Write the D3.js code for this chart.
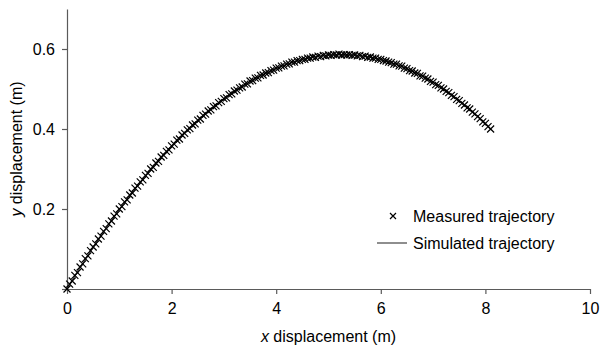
<!DOCTYPE html>
<html>
<head>
<meta charset="utf-8">
<script src="https://cdn.jsdelivr.net/npm/d3@7"></script>
<style>
  html, body { margin: 0; padding: 0; background: #fff; }
  svg { display: block; font-family: "Liberation Sans", Arial, sans-serif; }
</style>
</head>
<body>
<svg id="chart" width="600" height="351"></svg>
<script>
// ---- data ----
const xTicks = [0, 2, 4, 6, 8, 10];
const yTicks = [0, 0.2, 0.4, 0.6];
const yTickLabels = ["", "0.2", "0.4", "0.6"];
const seriesNames = ["Measured trajectory", "Simulated trajectory"];

const measuredX = [0.00,0.05,0.10,0.15,0.20,0.25,0.30,0.35,0.40,0.45,0.50,0.55,0.60,0.65,0.70,0.75,0.80,0.85,0.90,0.95,
1.00,1.05,1.10,1.15,1.20,1.25,1.30,1.35,1.40,1.45,1.50,1.55,1.60,1.65,1.70,1.75,1.80,1.85,1.90,1.95,
2.00,2.05,2.10,2.15,2.20,2.25,2.30,2.35,2.40,2.45,2.50,2.55,2.60,2.65,2.70,2.75,2.80,2.85,2.90,2.95,
3.00,3.05,3.10,3.15,3.20,3.25,3.30,3.35,3.40,3.45,3.50,3.55,3.60,3.65,3.70,3.75,3.80,3.85,3.90,3.95,
4.00,4.05,4.10,4.15,4.20,4.25,4.30,4.35,4.40,4.45,4.50,4.55,4.60,4.65,4.70,4.75,4.80,4.85,4.90,4.95,
5.00,5.05,5.10,5.15,5.20,5.25,5.30,5.35,5.40,5.45,5.50,5.55,5.60,5.65,5.70,5.75,5.80,5.85,5.90,5.95,
6.00,6.05,6.10,6.15,6.20,6.25,6.30,6.35,6.40,6.45,6.50,6.55,6.60,6.65,6.70,6.75,6.80,6.85,6.90,6.95,
7.00,7.05,7.10,7.15,7.20,7.25,7.30,7.35,7.40,7.45,7.50,7.55,7.60,7.65,7.70,7.75,7.80,7.85,7.90,7.95,
8.00,8.05,8.10];
const measuredY = [0.000,0.012,0.020,0.034,0.041,0.055,0.063,0.076,0.083,0.096,0.105,0.113,0.125,0.132,0.144,0.151,0.163,0.170,0.182,0.188,
0.200,0.206,0.218,0.223,0.235,0.240,0.252,0.257,0.268,0.273,0.284,0.289,0.300,0.304,0.315,0.319,0.330,0.334,0.344,0.348,
0.358,0.362,0.372,0.375,0.385,0.389,0.398,0.401,0.410,0.413,0.422,0.425,0.434,0.437,0.445,0.448,0.456,0.458,0.466,0.469,
0.476,0.478,0.486,0.488,0.495,0.497,0.503,0.505,0.512,0.513,0.520,0.521,0.527,0.528,0.534,0.535,0.540,0.541,0.546,0.547,
0.552,0.553,0.557,0.558,0.562,0.563,0.567,0.567,0.571,0.571,0.574,0.574,0.577,0.577,0.580,0.579,0.582,0.581,0.584,0.583,
0.585,0.584,0.586,0.585,0.587,0.585,0.586,0.585,0.586,0.584,0.585,0.583,0.584,0.581,0.582,0.579,0.580,0.577,0.577,0.574,
0.574,0.571,0.570,0.567,0.566,0.562,0.562,0.558,0.557,0.552,0.551,0.546,0.545,0.540,0.539,0.533,0.532,0.527,0.525,0.519,
0.517,0.511,0.509,0.503,0.500,0.494,0.491,0.484,0.481,0.474,0.471,0.464,0.460,0.453,0.450,0.442,0.438,0.431,0.426,0.418,
0.414,0.406,0.400];

const simulatedX = [0.0,0.1,0.2,0.3,0.4,0.5,0.6,0.7,0.8,0.9,1.0,1.1,1.2,1.3,1.4,1.5,1.6,1.7,1.8,1.9,
2.0,2.1,2.2,2.3,2.4,2.5,2.6,2.7,2.8,2.9,3.0,3.1,3.2,3.3,3.4,3.5,3.6,3.7,3.8,3.9,
4.0,4.1,4.2,4.3,4.4,4.5,4.6,4.7,4.8,4.9,5.0,5.1,5.2,5.3,5.4,5.5,5.6,5.7,5.8,5.9,
6.0,6.1,6.2,6.3,6.4,6.5,6.6,6.7,6.8,6.9,7.0,7.1,7.2,7.3,7.4,7.5,7.6,7.7,7.8,7.9,
8.0,8.1];
const simulatedY = [0.0000,0.0216,0.0428,0.0636,0.0840,0.1041,0.1237,0.1430,0.1619,0.1803,0.1984,0.2161,0.2334,0.2503,0.2668,0.2829,0.2985,0.3138,0.3287,0.3432,
0.3573,0.3709,0.3842,0.3970,0.4095,0.4215,0.4331,0.4443,0.4551,0.4654,0.4754,0.4849,0.4940,0.5027,0.5109,0.5188,0.5262,0.5332,0.5397,0.5458,
0.5516,0.5568,0.5617,0.5661,0.5700,0.5736,0.5767,0.5793,0.5815,0.5833,0.5846,0.5855,0.5860,0.5860,0.5855,0.5846,0.5833,0.5815,0.5793,0.5766,
0.5734,0.5698,0.5658,0.5612,0.5563,0.5508,0.5449,0.5386,0.5318,0.5245,0.5167,0.5085,0.4998,0.4907,0.4810,0.4710,0.4604,0.4493,0.4378,0.4258,
0.4134,0.4004];

// ---- layout ----
const svg = d3.select("#chart");
const mLeft = 67, mRight = 590, mTop = 9, mBottom = 289;
const x = d3.scaleLinear().domain([0, 10]).range([mLeft, mRight]);
const y = d3.scaleLinear().domain([0, 0.7]).range([mBottom, mTop]);
const axisColor = "#5a5a5a";
const fontSize = 16;

// x axis
const xAxis = svg.append("g").attr("transform", `translate(0,${mBottom})`)
  .call(d3.axisBottom(x).tickValues(xTicks).tickSize(5).tickPadding(9).tickSizeOuter(0));
// y axis
const yAxis = svg.append("g").attr("transform", `translate(${mLeft},0)`)
  .call(d3.axisLeft(y).tickValues(yTicks).tickSize(5).tickPadding(7).tickSizeOuter(0)
    .tickFormat((d, i) => yTickLabels[i]));
[xAxis, yAxis].forEach(g => {
  g.select(".domain").attr("stroke", axisColor).attr("stroke-width", 1.2);
  g.selectAll(".tick line").attr("stroke", axisColor).attr("stroke-width", 1.2);
  g.selectAll(".tick text").attr("fill", "#000").style("font-size", fontSize + "px")
    .style("font-family", '"Liberation Sans", Arial, sans-serif');
});

// axis titles
const xt = svg.append("text").attr("x", (mLeft + mRight) / 2).attr("y", 342)
  .attr("text-anchor", "middle").style("font-size", fontSize + "px");
xt.append("tspan").style("font-style", "italic").text("x");
xt.append("tspan").text(" displacement (m)");

const yt = svg.append("text")
  .attr("transform", `translate(22,${(mTop + mBottom) / 2}) rotate(-90)`)
  .attr("text-anchor", "middle").style("font-size", fontSize + "px");
yt.append("tspan").style("font-style", "italic").text("y");
yt.append("tspan").text(" displacement (m)");

// simulated line
const simData = simulatedX.map((v, i) => [v, simulatedY[i]]);
svg.append("path").datum(simData)
  .attr("fill", "none").attr("stroke", "#444").attr("stroke-width", 1.2)
  .attr("d", d3.line().x(d => x(d[0])).y(d => y(d[1])));

// measured markers
const cross = "M-3.5,-3.5L3.5,3.5M-3.5,3.5L3.5,-3.5";
const measData = measuredX.map((v, i) => [v, measuredY[i]]);
svg.append("g").selectAll("path").data(measData).join("path")
  .attr("transform", d => `translate(${x(d[0])},${y(d[1])})`)
  .attr("d", cross).attr("stroke", "#000").attr("stroke-width", 1.2).attr("fill", "none");

// legend
const lg = svg.append("g");
lg.append("path").attr("transform", "translate(393,216)").attr("d", "M-3,-3L3,3M-3,3L3,-3")
  .attr("stroke", "#000").attr("stroke-width", 1.2);
lg.append("text").attr("x", 413).attr("y", 221.5).style("font-size", fontSize + "px").text(seriesNames[0]);
lg.append("line").attr("x1", 377).attr("x2", 407).attr("y1", 243).attr("y2", 243)
  .attr("stroke", "#444").attr("stroke-width", 1.2);
lg.append("text").attr("x", 413).attr("y", 248.5).style("font-size", fontSize + "px").text(seriesNames[1]);
</script>
</body>
</html>
